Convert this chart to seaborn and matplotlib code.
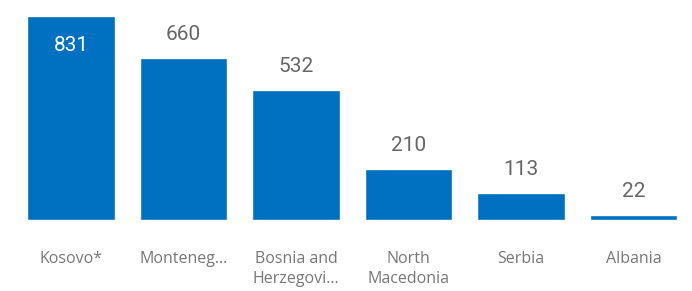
import matplotlib.pyplot as plt
import seaborn as sns
import pandas as pd

countries = ["Kosovo*", "Monteneg...", "Bosnia and\nHerzegovi...", "North\nMacedonia", "Serbia", "Albania"]
values = [831, 660, 532, 210, 113, 22]

df = pd.DataFrame({"country": countries, "value": values})

sns.set_theme(style="white")

fig = plt.figure(figsize=(6.92, 2.91), dpi=100)
ax = fig.add_axes([0.0213, 0.2423, 0.9754, 0.7027])

sns.barplot(data=df, x="country", y="value", color="#0070C0", saturation=1,
            width=0.78, ax=ax)

ax.set_xlim(-0.5, len(countries) - 0.5)
ax.set_ylim(0, 831)
sns.despine(left=True, bottom=True)
ax.set_yticks([])
ax.set_xlabel("")
ax.set_ylabel("")
ax.tick_params(axis="x", length=0, pad=22)
for lbl in ax.get_xticklabels():
    lbl.set_fontfamily("Open Sans")
    lbl.set_fontsize(11.5)
    lbl.set_color("#777777")
    lbl.set_verticalalignment("top")
    lbl.set_linespacing(1.35)

# etiquetas de valores
for i, v in enumerate(values):
    if i == 0:
        ax.annotate(str(v), (i, v), xytext=(0, -28), textcoords="offset points",
                    ha="center", va="bottom", color="white", fontsize=15,
                    family="Roboto")
    else:
        ax.annotate(str(v), (i, v), xytext=(0, 10), textcoords="offset points",
                    ha="center", va="bottom", color="#666666", fontsize=15,
                    family="Roboto")

fig.savefig("out.png", dpi=100)
